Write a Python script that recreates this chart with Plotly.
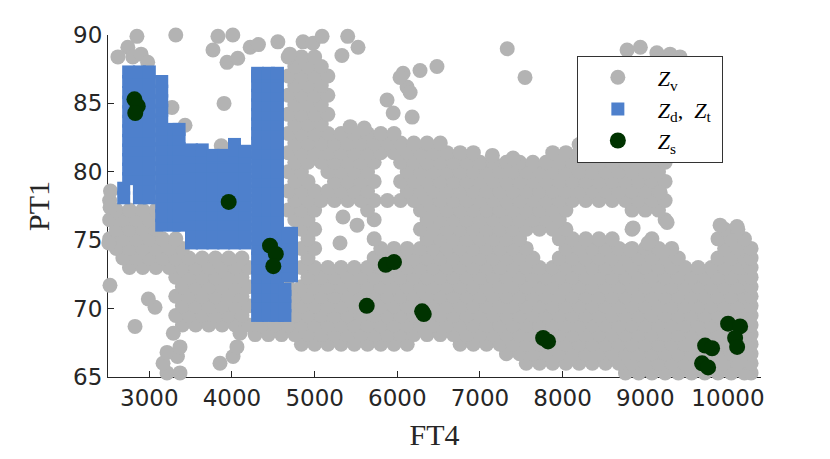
import plotly.graph_objects as go

# Z_v cloud (PT1 level -> FT4 positions)
gray_rows_y = [65.3, 66.0, 66.7, 67.4, 68.1, 68.8, 69.5, 70.2, 70.9, 71.6, 72.3, 73.0,
               73.7, 74.4, 75.1, 75.8, 76.5, 77.2, 77.9, 78.6, 79.3, 80.0, 80.7, 81.4,
               82.1, 82.8, 83.5, 84.2, 84.9, 85.6, 86.3, 87.0, 87.7, 88.4]
gray_rows_x = [
    [8760, 8920, 9080, 9240, 9400, 9560, 9720, 9880, 10040, 10200, 10280],
    [7560, 7720, 7880, 8040, 8200, 8360, 8520, 8680, 8840, 9000, 9160, 9320, 9480, 9640, 9800, 9960, 10120, 10280],
    [7320, 7480, 7640, 7800, 7960, 8120, 8280, 8440, 8600, 8760, 8920, 9080, 9240, 9400, 9560, 9720, 9880, 10040, 10200, 10280],
    [4840, 5000, 5160, 5320, 5480, 5640, 5800, 5960, 6120, 6760, 6920, 7080, 7240, 7400, 7560, 7720, 7880, 8040,
     8200, 8360, 8520, 8680, 8840, 9000, 9160, 9320, 9480, 9640, 9800, 9960, 10120, 10280],
    [4280, 4440, 4600, 4760, 4920, 5080, 5240, 5400, 5560, 5720, 5880, 6040, 6200, 6360, 6520, 6680, 6840, 7000,
     7160, 7320, 7480, 7640, 7800, 7960, 8120, 8280, 8440, 8600, 8760, 8920, 9080, 9240, 9400, 9560, 9720, 9880,
     10040, 10200, 10280],
    [3400, 3560, 3720, 3880, 4040, 4200, 4360, 4520, 4680, 4840, 5000, 5160, 5320, 5480, 5640, 5800, 5960, 6120,
     6280, 6440, 6600, 6760, 6920, 7080, 7240, 7400, 7560, 7720, 7880, 8040, 8200, 8360, 8520, 8680, 8840, 9000,
     9160, 9320, 9480, 9640, 9800, 9960, 10120, 10280],
    [3320, 3480, 3640, 3800, 3960, 4120, 4760, 4920, 5080, 5240, 5400, 5560, 5720, 5880, 6040, 6200, 6360, 6520,
     6680, 6840, 7000, 7160, 7320, 7480, 7640, 7800, 7960, 8120, 8280, 8440, 8600, 8760, 8920, 9080, 9240, 9400,
     9560, 9720, 9880, 10040, 10200, 10280],
    [3400, 3560, 3720, 3880, 4040, 4200, 4680, 4840, 5000, 5160, 5320, 5480, 5640, 5800, 5960, 6120, 6280, 6440,
     6600, 6760, 6920, 7080, 7240, 7400, 7560, 7720, 7880, 8040, 8200, 8360, 8520, 8680, 8840, 9000, 9160, 9320,
     9480, 9640, 9800, 9960, 10120, 10280],
    [3320, 3480, 3640, 3800, 3960, 4120, 4760, 4920, 5080, 5240, 5400, 5560, 5720, 5880, 6040, 6200, 6360, 6520,
     6680, 6840, 7000, 7160, 7320, 7480, 7640, 7800, 7960, 8120, 8280, 8440, 8600, 8760, 8920, 9080, 9240, 9400,
     9560, 9720, 9880, 10040, 10200, 10280],
    [3400, 3560, 3720, 3880, 4040, 4200, 4680, 4840, 5000, 5160, 5320, 5480, 5640, 5800, 5960, 6120, 6280, 6440,
     6600, 6760, 6920, 7080, 7240, 7400, 7560, 7720, 7880, 8040, 8200, 8360, 8520, 8680, 8840, 9000, 9160, 9320,
     9480, 9640, 9800, 9960, 10120, 10280],
    [3320, 3480, 3640, 3800, 3960, 4120, 4920, 5080, 5240, 5400, 5560, 5720, 5880, 6040, 6200, 6360, 6520,
     6680, 6840, 7000, 7160, 7320, 7480, 7640, 7800, 7960, 8120, 8280, 8440, 8600, 8760, 8920, 9080, 9240, 9400,
     9560, 9720, 9880, 10040, 10200, 10280],
    [2760, 2920, 3080, 3240, 3400, 3560, 3720, 3880, 4040, 4200, 4840, 5000, 5160, 5320, 5480, 5640, 5800, 5960,
     6120, 6280, 6440, 6600, 6760, 6920, 7080, 7240, 7400, 7560, 7720, 7880, 8040, 8200, 8360, 8520, 8680, 8840,
     9000, 9160, 9320, 9480, 9640, 9800, 9960, 10120, 10280],
    [2680, 2840, 3000, 3160, 3320, 3480, 3640, 3800, 3960, 4120, 4920, 5720, 5880, 6040, 6200, 6360, 6520, 6680,
     6840, 7000, 7160, 7320, 7480, 7640, 7960, 8120, 8280, 8440, 8600, 8760, 8920, 9080, 9240, 9400, 9880, 10040,
     10200, 10280],
    [2600, 2760, 2920, 3080, 3240, 3400, 4840, 5000, 5800, 5960, 6120, 6280, 6440, 6600, 6760, 6920, 7080, 7240,
     7400, 7560, 8040, 8200, 8360, 8520, 8680, 8840, 9000, 9160, 9320, 9960, 10120, 10280],
    [2520, 2680, 2840, 3000, 3160, 3320, 4920, 5720, 6360, 6520, 6680, 6840, 7000, 7160, 7320, 7480, 7960, 8120,
     8280, 8440, 8600, 9080, 9880, 10040, 10200],
    [2600, 2760, 2920, 3080, 4840, 5000, 6280, 6440, 6600, 6760, 6920, 7080, 7240, 7400, 7560, 7720, 7880, 8040,
     8840, 9960, 10120],
    [2520, 2680, 2840, 3000, 4760, 4920, 5720, 6360, 6520, 6680, 6840, 7000, 7160, 7320, 7480, 7640, 7800, 7960, 9240],
    [2600, 2760, 2920, 3080, 4680, 4840, 5000, 5640, 6280, 6440, 6600, 6760, 6920, 7080, 7240, 7400, 7560, 7720,
     7880, 8040, 8840, 9000, 9160],
    [2520, 4760, 4920, 5080, 5240, 5400, 5560, 5720, 5880, 6040, 6200, 6360, 6520, 6680, 6840, 7000, 7160, 7320,
     7480, 7640, 7800, 7960, 8120, 8280, 8440, 8600, 8760, 8920, 9080, 9240],
    [4680, 4840, 5000, 5160, 5320, 5480, 5640, 6120, 6280, 6440, 6600, 6760, 6920, 7080, 7240, 7400, 7560, 7720,
     7880, 8040, 8200, 8360, 8520, 8680, 8840, 9000, 9160],
    [4760, 4920, 5240, 5400, 5560, 5720, 6040, 6200, 6360, 6520, 6680, 6840, 7000, 7160, 7320, 7480, 7640, 7800,
     7960, 8120, 8280, 8440, 8600, 8760, 8920, 9080, 9240],
    [4680, 4840, 5160, 5320, 5480, 5640, 6120, 6280, 6440, 6600, 6760, 6920, 7080, 7240, 7400, 7560, 7720, 7880,
     8040, 8200, 8360, 8520, 8680, 8840, 9000, 9160],
    [4760, 4920, 5080, 5240, 5400, 5560, 5720, 6040, 6200, 6360, 6520, 6680, 6840, 7000, 7160, 7320, 7480, 7640,
     7800, 7960, 8120, 8280, 8440, 8600, 8760, 8920, 9080, 9240],
    [4680, 4840, 5000, 5160, 5320, 5480, 5640, 5800, 5960, 6120, 6280, 6440, 6600, 6760, 6920, 7880, 8040, 8200],
    [4760, 4920, 5080, 5240, 5400, 5560, 5720, 5880, 6040, 6200, 6360, 6520],
    [4680, 4840, 5000, 5160, 5320, 5480, 5640, 5800, 5960],
    [4760, 4920, 5080],
    [4680, 4840, 5000, 5160],
    [4760, 4920, 5080],
    [4680, 4840, 5000, 5160],
    [4760, 4920, 5080],
    [4680, 4840, 5000, 5160],
    [4760, 4920, 5080],
    [4680, 4840, 5000],
]
# scattered Z_v points outside the dense rows
gray_extra_x = [2850, 2740, 2620, 2800, 2900, 2980, 3320, 3830, 4010, 3770, 3940, 4070, 4220, 4320, 4555,
                4700, 4860, 4980, 5090, 5400, 5525, 5330, 7330, 7545, 8780, 8940, 9140, 9300, 9420,
                3274, 3904, 3432, 3870, 6070, 6275, 6480, 6118, 6155, 6033, 5876, 5950, 6180, 5430, 5600,
                3214, 3371, 3166, 3340, 3855, 3214, 4013, 3371, 4060, 3290, 4097,
                2827, 3069, 2988, 2524, 2510, 2525, 2530,
                5343, 5513, 5307, 8853, 9264, 9034, 9215, 8816, 9905, 10110, 9155, 8200, 9180, 7150, 7400]
gray_extra_y = [89.9, 89.1, 88.4, 88.4, 88.6, 88.0, 90.0, 89.9, 90.0, 88.9, 88.0, 88.3, 89.1, 89.3, 89.5,
                88.6, 89.5, 89.4, 89.9, 89.9, 89.1, 88.5, 89.0, 86.9, 88.9, 89.1, 88.7, 88.6, 88.4,
                84.7, 85.0, 83.4, 81.9, 87.2, 87.4, 87.7, 86.2, 85.8, 86.9, 85.25, 84.3, 84.0, 83.3, 83.2,
                65.3, 65.3, 66.0, 66.5, 66.0, 66.8, 66.5, 67.2, 67.2, 68.2, 68.2,
                68.7, 70.1, 70.7, 71.7, 74.8, 77.4, 78.6,
                76.7, 76.1, 74.8, 75.9, 76.3, 74.8, 74.1, 74.3, 76.1, 76.0, 81.0, 82.0, 78.5, 81.2, 81.0]

# Z_d, Z_t block of squares, column by column
blue_cols_x = [2690, 2750, 2880, 3000, 3150, 3300, 3360, 3510, 3640, 3770, 3900, 4030, 4160,
               4310, 4440, 4550, 4680, 4720, 4640]
b1_y = [78.1, 78.8, 79.5, 80.2, 80.9, 81.6, 82.3, 83.0, 83.7, 84.4, 85.1, 85.8, 86.6, 87.3]
b2_y = [76.1, 76.8, 77.5, 78.2, 78.9, 79.6, 80.3, 81.0, 81.7, 82.4, 83.1, 83.8, 84.5, 85.2, 85.9, 86.6]
b3_y = [76.1, 76.8, 77.5, 78.2, 78.9, 79.6, 80.3, 81.0, 81.7, 82.4, 83.1]
b4_y = [74.8, 75.5, 76.2, 76.9, 77.6, 78.3, 79.0, 79.7, 80.4, 81.1]
b5_y = [69.5, 70.2, 70.9, 71.6, 72.3, 73.0, 73.7, 74.4, 75.1, 75.8, 76.5, 77.2, 77.9, 78.6, 79.3, 80.0,
        80.7, 81.4, 82.1, 82.8, 83.5, 84.2, 84.9, 85.6, 86.3, 87.0, 87.2]
blue_cols_y = [
    [78.1, 78.8],
    b1_y[2:], b1_y, b1_y, b2_y, b3_y, b3_y,
    b4_y + [81.6], b4_y + [81.6], b4_y + [81.2], b4_y + [81.2], b4_y + [81.6, 82.0], b4_y + [81.5],
    b5_y, b5_y, b5_y,
    [72.4, 73.1, 73.8, 74.5, 75.2, 75.5], [72.4, 73.1, 73.8, 74.5, 75.2, 75.5],
    [69.5, 70.2, 70.9, 71.4],
]

# Z_s points
green_x = [2820, 2860, 2830, 3960, 4460, 4530, 4500, 5860, 5960, 5630, 6300, 6320, 7764, 7824,
           10002, 10147, 10087, 10111, 9724, 9808, 9687, 9760]
green_y = [85.3, 84.8, 84.3, 77.8, 74.6, 74.0, 73.1, 73.2, 73.4, 70.2, 69.8, 69.6, 67.85, 67.6,
           68.9, 68.7, 67.85, 67.2, 67.3, 67.1, 66.0, 65.7]

x_ticks = [3000, 4000, 5000, 6000, 7000, 8000, 9000, 10000]
y_ticks = [65, 70, 75, 80, 85, 90]

GRAY = '#b3b3b3'
BLUE = '#4e80cc'
GREEN = '#003300'
INK = '#262626'

gx, gy = [], []
for y, xs in zip(gray_rows_y, gray_rows_x):
    gx += xs
    gy += [y] * len(xs)
gx += gray_extra_x
gy += gray_extra_y

bx, by = [], []
for x, ys in zip(blue_cols_x, blue_cols_y):
    bx += [x] * len(ys)
    by += ys

fig = go.Figure()
fig.add_trace(go.Scatter(x=gx, y=gy, mode='markers', showlegend=False, cliponaxis=False, hoverinfo='skip',
                         marker=dict(color=GRAY, size=15, line=dict(width=0))))
fig.add_trace(go.Scatter(x=bx, y=by, mode='markers', showlegend=False, cliponaxis=False, hoverinfo='skip',
                         marker=dict(color=BLUE, size=13, symbol='square', line=dict(width=0))))
fig.add_trace(go.Scatter(x=green_x, y=green_y, mode='markers', showlegend=False, cliponaxis=False,
                         marker=dict(color=GREEN, size=16, line=dict(width=0))))

# legend entries
fig.add_trace(go.Scatter(x=[None], y=[None], mode='markers', name='<i>Z</i><sub>v</sub>', legendgroup='v',
                         marker=dict(color=GRAY, size=15)))
fig.add_trace(go.Scatter(x=[None], y=[None], mode='markers',
                         name='<i>Z</i><sub>d</sub>,&nbsp;&nbsp;<i>Z</i><sub>t</sub>&nbsp;',
                         legendgroup='d', marker=dict(color=BLUE, size=13, symbol='square')))
fig.add_trace(go.Scatter(x=[None], y=[None], mode='markers', name='<i>Z</i><sub>s</sub>', legendgroup='s',
                         marker=dict(color=GREEN, size=16)))

axis_common = dict(showgrid=False, zeroline=False, showline=True, linecolor=INK, linewidth=1,
                   ticks='inside', ticklen=6, tickcolor=INK, mirror=False, layer='below traces',
                   tickfont=dict(family='DejaVu Sans', size=23, color=INK))
fig.update_xaxes(range=[2500, 10400], tickvals=x_ticks, ticktext=[str(v) for v in x_ticks],
                 title=dict(text='FT4', font=dict(family='Liberation Serif', size=30, color=INK), standoff=14),
                 **axis_common)
fig.update_yaxes(range=[65, 90], tickvals=y_ticks, ticktext=[str(v) for v in y_ticks],
                 title=dict(text='PT1', font=dict(family='Liberation Serif', size=30, color=INK), standoff=14),
                 **axis_common)
# the page adds an 8 px body margin, so the plot margins are shifted to compensate
fig.update_layout(
    width=830, height=459, autosize=False,
    margin=dict(l=100, r=77, t=27, b=90),
    plot_bgcolor='white', paper_bgcolor='white',
    legend=dict(x=0.718, y=0.94, xanchor='left', yanchor='top', bgcolor='white',
                bordercolor='#333333', borderwidth=1, itemwidth=70, tracegroupgap=0,
                font=dict(family='Liberation Serif', size=22, color='black')),
)
fig.write_html("out.html")
